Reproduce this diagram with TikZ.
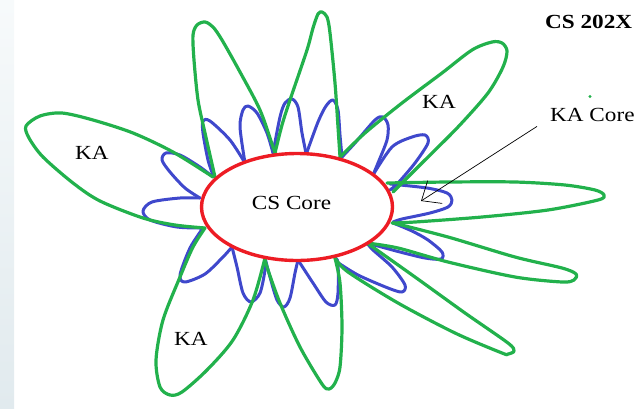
\documentclass[tikz,border=0pt]{standalone}
\usepackage{fontspec}
\setmainfont[FakeStretch=1.16]{Liberation Serif}
\usepackage{tikz}
\usetikzlibrary{arrows.meta, shapes.geometric}
\definecolor{kagreen}{RGB}{34,177,76}
\definecolor{kablue}{RGB}{63,72,204}
\definecolor{csred}{RGB}{237,28,36}
\definecolor{stripetop}{RGB}{247,250,251}
\definecolor{stripebot}{RGB}{225,234,238}
\tikzset{
    kapetal/.style={kagreen, line width=3.2pt, line join=round, line cap=round},
    corepetal/.style={kablue, line width=3pt, line join=round, line cap=round},
    csellipse/.style={ellipse, draw=csred, fill=white, line width=3.4pt, minimum width=191pt, minimum height=107pt, inner sep=0pt},
    lbl/.style={inner sep=0pt, font=\fontsize{20}{24}\selectfont},
    pointer/.style={->, black, line width=0.7pt},
}

\begin{document}
\begin{tikzpicture}[x=1pt, y=-1pt, >={Straight Barb[length=16pt, width=27pt]}]
    \useasboundingbox (0,0) rectangle (635,408);
    \shade[top color=stripetop, bottom color=stripebot] (0,0) rectangle (14,408);

    % small blue loops round the core
    \draw[corepetal] plot[smooth] coordinates {(200,198) (180,198) (152,202) (143,211) (150,220) (177,227) (203,228)};
    \draw[corepetal] plot[smooth] coordinates {(203,228) (190,248) (180,275) (185,282) (205,274) (223,257) (232,247)};
    \draw[corepetal] plot[smooth] coordinates {(232,247) (237,267) (243,293) (251,302) (260,293) (265,270) (265,258)};
    \draw[corepetal] plot[smooth] coordinates {(265,258) (270,277) (277,300) (284,307) (290,298) (295,273) (298,260)};
    \draw[corepetal] plot[smooth] coordinates {(298,260) (313,283) (326,302) (335,305) (338,293) (338,263) (335,258)};
    \draw[corepetal] plot[smooth] coordinates {(337,262) (358,275) (388,288) (402,292) (405,285) (392,267) (373,250) (367,243)};
    \draw[corepetal] plot[smooth] coordinates {(393,223) (412,231) (428,240) (442,252) (441,259) (425,258) (400,252) (367,243)};
    \draw[corepetal] plot[smooth] coordinates {(390,184) (427,188) (447,193) (452,200) (448,207) (430,213) (402,219) (393,222)};
    \draw[corepetal] plot[smooth] coordinates {(373,175) (392,147) (412,137) (425,135) (428,143) (415,163) (398,183) (390,190)};
    \draw[corepetal] plot[smooth] coordinates {(342,157) (355,143) (375,120) (383,117) (388,125) (387,140) (378,163) (373,175)};
    \draw[corepetal] plot[smooth] coordinates {(307,152) (318,122) (326,106) (333,100) (338,110) (340,135) (342,157)};
    \draw[corepetal] plot[smooth] coordinates {(273,153) (280,117) (285,103) (292,99) (298,107) (302,133) (306,153)};
    \draw[corepetal] plot[smooth] coordinates {(245,163) (240,127) (243,110) (248,106) (257,113) (267,133) (273,153)};
    \draw[corepetal] plot[smooth] coordinates {(213,175) (208,160) (203,133) (203,121) (210,121) (230,140) (245,163)};
    \draw[corepetal] plot[smooth] coordinates {(200,198) (185,188) (170,172) (162,160) (166,153) (180,155) (200,167) (213,177)};

    % big green petals
    \draw[kapetal] plot[smooth] coordinates {(213,177) (173,152) (133,133) (93,120) (62,113) (40,116) (26,126) (29,138) (43,157) (73,183) (100,201) (143,218) (175,225) (205,228)};
    \draw[kapetal] plot[smooth] coordinates {(215,177) (205,133) (198,100) (194,60) (193,35) (197,25) (205,22) (213,27) (222,40) (240,72) (260,110) (273,147) (275,153)};
    \draw[kapetal] plot[smooth] coordinates {(275,153) (282,125) (290,100) (307,50) (313,28) (318,14) (322,12) (327,17) (330,33) (335,83) (338,127) (340,157)};
    \draw[kapetal] plot[smooth] coordinates {(340,157) (365,133) (402,103) (442,73) (472,50) (492,42) (502,43) (507,51) (503,67) (488,93) (458,127) (425,160) (402,183) (393,192)};
    \draw[kapetal] plot[smooth] coordinates {(387,183) (448,182) (515,182) (565,185) (595,190) (604,195) (598,200) (548,210) (482,217) (415,222) (392,223)};
    \draw[kapetal] plot[smooth] coordinates {(393,223) (448,237) (515,257) (562,268) (576,274) (574,280) (562,282) (515,277) (448,262) (398,248) (367,243)};
    \draw[kapetal] plot[smooth] coordinates {(367,243) (415,277) (465,313) (508,343) (514,351) (508,354) (502,353) (455,333) (398,303) (348,272) (335,258)};
    \draw[kapetal] plot[smooth] coordinates {(335,258) (340,283) (342,327) (340,367) (335,383) (329,389) (322,384) (300,347) (280,303) (267,267) (265,258)};
    \draw[kapetal] plot[smooth] coordinates {(265,258) (253,300) (233,340) (207,370) (182,392) (170,395) (160,387) (156,360) (163,320) (180,277) (193,247) (205,228)};

    % core and labels
    \node[csellipse] (cs) at (297,207) {};
    \node[lbl] (cslabel) at (291.5,203) {CS Core};
    \foreach \x/\y/\n in {92/153/kaleft, 439/102/katop, 191/339/kabottom}
    {
        \node[lbl] (\n) at (\x,\y) {KA};
    }
    \node[lbl, anchor=west] (kacore) at (550,115) {KA Core};
    \node[lbl, anchor=west, font=\fontsize{20}{24}\selectfont\bfseries] (title) at (545,21.5) {CS 202X};
    \fill[kagreen] (590,96.5) circle (1.6);

    \coordinate (kahit) at (421,201);
    \draw[pointer] ([shift={(-13pt,-4.5pt)}]kacore.south west) -- (kahit);
\end{tikzpicture}
\end{document}
